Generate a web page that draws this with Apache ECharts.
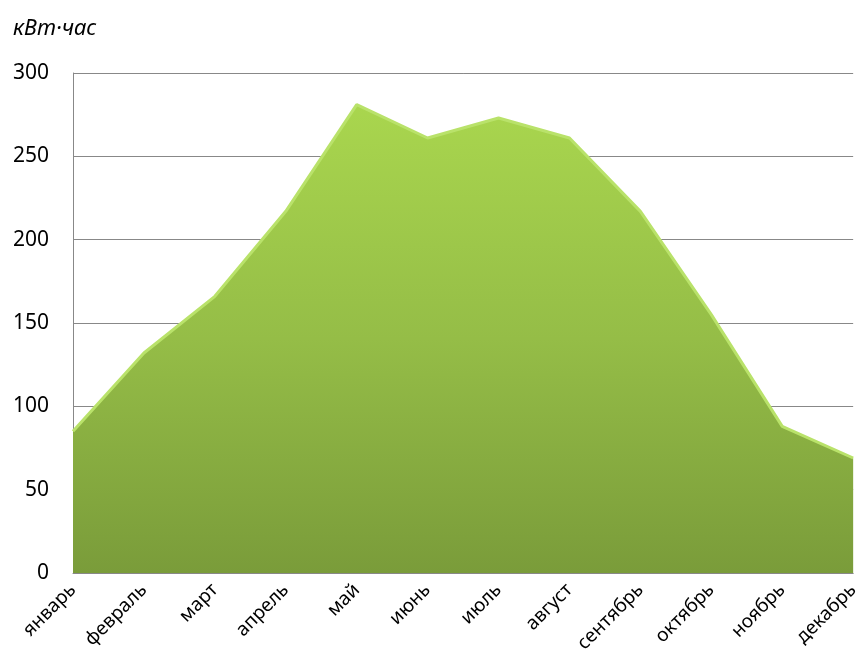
<!DOCTYPE html>
<html lang="ru">
<head>
  <meta charset="UTF-8">
  <title>кВт·час</title>
  <script src="https://cdn.jsdelivr.net/npm/echarts@6/dist/echarts.min.js"></script>
  <style>
    html, body { margin: 0; padding: 0; background: #fff; }
    #chart { width: 862px; height: 669px; }
  </style>
</head>
<body>
<div id="chart"></div>
<script>
  const months = ['январь', 'февраль', 'март', 'апрель', 'май', 'июнь',
                  'июль', 'август', 'сентябрь', 'октябрь', 'ноябрь', 'декабрь'];
  const energy = [85, 132, 166, 217, 281, 261, 273, 261, 217, 155, 88, 69];
  const unitLabel = 'кВт·час';

  const chart = echarts.init(document.getElementById('chart'));
  const font = "'Noto Sans', 'Open Sans', sans-serif";

  chart.setOption({
    animation: false,
    title: {
      text: unitLabel,
      left: 8, top: 13,
      textStyle: { fontFamily: font, fontStyle: 'italic', fontWeight: 'normal', fontSize: 22, color: '#000' }
    },
    grid: { left: 73, right: 7, top: 73, bottom: 96 },
    xAxis: {
      type: 'category',
      data: months,
      boundaryGap: false,
      axisLine: { show: true, lineStyle: { color: '#888', width: 1 } },
      axisTick: { show: false },
      axisLabel: {
        rotate: 45,
        interval: 0,
        margin: 14,
        fontFamily: font,
        fontSize: 19,
        color: '#000'
      }
    },
    yAxis: {
      type: 'value',
      min: 0, max: 300, interval: 50,
      axisLine: { show: true, lineStyle: { color: '#888', width: 1 } },
      axisTick: { show: false },
      axisLabel: { fontFamily: font, fontSize: 21, color: '#000', margin: 24 },
      splitLine: { lineStyle: { color: '#888', width: 1 } }
    },
    series: [{
      type: 'line',
      data: energy,
      symbol: 'none',
      lineStyle: { color: '#b9e26a', width: 3 },
      areaStyle: {
        opacity: 1,
        color: new echarts.graphic.LinearGradient(0, 0, 0, 1, [
          { offset: 0, color: '#a9d64e' },
          { offset: 0.5, color: '#95bd47' },
          { offset: 1, color: '#7a9c3a' }
        ])
      }
    }]
  });
</script>
</body>
</html>
